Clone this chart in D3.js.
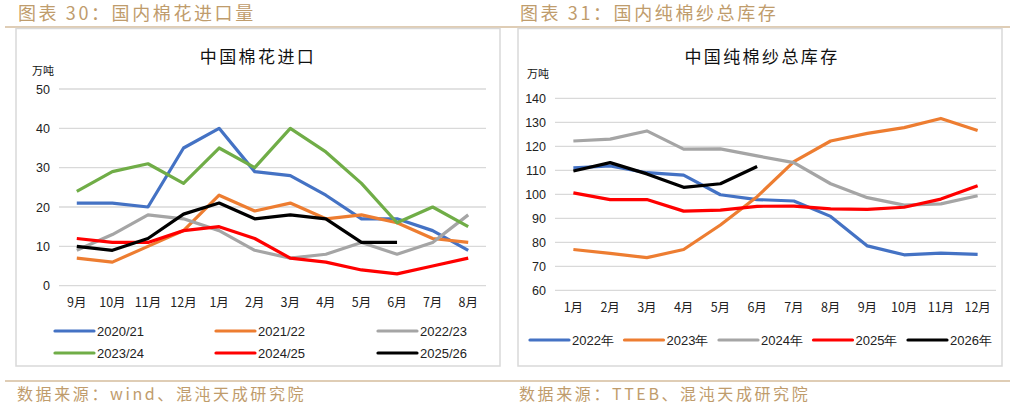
<!DOCTYPE html>
<html>
<head>
<meta charset="utf-8">
<script src="https://cdn.jsdelivr.net/npm/d3@7/dist/d3.min.js"></script>
<style>
  body { margin: 0; background: #fff; }
  svg { display: block; }
</style>
</head>
<body>
<svg id="chart" width="1015" height="408"></svg>
<script>
// ---- left chart: cotton imports (万吨), crop year Sep..Aug
const importMonths = ["9月", "10月", "11月", "12月", "1月", "2月", "3月", "4月", "5月", "6月", "7月", "8月"]
const importSeriesNames = ["2020/21", "2021/22", "2022/23", "2023/24", "2024/25", "2025/26"]
const imports2020 = [21, 21, 20, 35, 40, 29, 28, 23, 17, 17, 14, 9]
const imports2021 = [7, 6, 10, 14, 23, 19, 21, 17, 18, 16, 12, 11]
const imports2022 = [9, 13, 18, 17, 14, 9, 7, 8, 11, 8, 11, 18]
const imports2023 = [24, 29, 31, 26, 35, 30, 40, 34, 26, 16, 20, 15]
const imports2024 = [12, 11, 11, 14, 15, 12, 7, 6, 4, 3, 5, 7]
const imports2025 = [10, 9, 12, 18.2, 21, 17, 18, 17, 11, 11]
const importTicks = [0, 10, 20, 30, 40, 50]

// ---- right chart: yarn inventory (万吨), Jan..Dec
const stockMonths = ["1月", "2月", "3月", "4月", "5月", "6月", "7月", "8月", "9月", "10月", "11月", "12月"]
const stockSeriesNames = ["2022年", "2023年", "2024年", "2025年", "2026年"]
const stock2022 = [111, 111.8, 109, 108, 99.8, 97.8, 97.2, 90.8, 78.5, 74.8, 75.5, 75]
const stock2023 = [77, 75.4, 73.6, 77, 87.2, 99, 113.6, 122.2, 125.4, 127.8, 131.6, 126.6]
const stock2024 = [122.2, 123, 126.4, 118.8, 118.9, 116, 113.2, 104.4, 98.6, 95.5, 96, 99.4]
const stock2025 = [100.6, 97.8, 97.8, 93, 93.4, 95, 95.1, 93.9, 93.7, 94.6, 98, 103.6]
const stock2026 = [109.7, 113.2, 108.5, 102.9, 104.4, 111.6]
const stockTicks = [60, 70, 80, 90, 100, 110, 120, 130, 140]

const colors6 = ["#4472C4", "#ED7D31", "#A5A5A5", "#70AD47", "#FF0000", "#000000"]
const colors5 = ["#4472C4", "#ED7D31", "#A5A5A5", "#FF0000", "#000000"]

const tan = "#bf9c6c"
const cjk = "'Noto Sans CJK SC', sans-serif"
const latin = "'Liberation Sans', Arial, sans-serif"

const svg = d3.select("#chart")

function drawPanel(opt) {
    const g = svg.append("g")

    // header title + rule
    g.append("text")
        .text(opt.heading)
        .attr("x", opt.x0 + 13)
        .attr("y", 20)
        .attr("fill", tan)
        .attr("font-size", 18)
        .attr("letter-spacing", 2.6)
        .attr("font-family", cjk)
    g.append("line")
        .attr("x1", opt.x0).attr("x2", opt.x1)
        .attr("y1", 27).attr("y2", 27)
        .attr("stroke", tan).attr("stroke-width", 1.2)

    // footer rule + source
    g.append("line")
        .attr("x1", opt.x0).attr("x2", opt.x1)
        .attr("y1", 381).attr("y2", 381)
        .attr("stroke", tan).attr("stroke-width", 1.2)
    g.append("text")
        .text(opt.source)
        .attr("x", opt.x0 + 12)
        .attr("y", 400)
        .attr("fill", tan)
        .attr("font-size", 16)
        .attr("letter-spacing", 2.6)
        .attr("font-family", cjk)

    // chart frame
    g.append("rect")
        .attr("x", opt.box[0]).attr("y", 28.5)
        .attr("width", opt.box[1] - opt.box[0])
        .attr("height", 366 - 28.5)
        .attr("fill", "#fff")
        .attr("stroke", "#d9d9d9").attr("stroke-width", 1.5)

    g.append("text")
        .text(opt.title)
        .attr("x", opt.titleX)
        .attr("y", 63)
        .attr("text-anchor", "middle")
        .attr("font-size", 17)
        .attr("letter-spacing", 2.4)
        .attr("font-family", cjk)
        .attr("fill", "#111")

    g.append("text")
        .text("万吨")
        .attr("x", opt.unitX)
        .attr("y", opt.unitY)
        .attr("font-size", 11)
        .attr("font-family", cjk)
        .attr("fill", "#111")

    const xScale = d3.scaleBand()
        .domain(opt.months)
        .range([opt.plot.left, opt.plot.right])

    const yScale = d3.scaleLinear()
        .domain(d3.extent(opt.ticks))
        .range([opt.plot.bottom, opt.plot.top])

    // gridlines
    g.append("g")
        .selectAll("line")
        .data(opt.ticks)
        .join("line")
            .attr("x1", opt.plot.left)
            .attr("x2", opt.plot.right)
            .attr("y1", d => yScale(d))
            .attr("y2", d => yScale(d))
            .attr("stroke", "#d9d9d9")
            .attr("stroke-width", 1.3)

    // y axis labels
    const yAxis = g.append("g")
        .attr("transform", `translate(${opt.plot.left - 9}, 0)`)
        .call(d3.axisLeft(yScale).tickValues(opt.ticks).tickSize(0).tickPadding(0))
    yAxis.select(".domain").remove()
    yAxis.selectAll("text")
        .attr("font-size", 12.5)
        .attr("font-family", latin)
        .attr("fill", "#222")

    // x axis labels
    const xAxis = g.append("g")
        .attr("transform", `translate(0, ${opt.xLabelY})`)
        .call(d3.axisBottom(xScale).tickSize(0).tickPadding(0))
    xAxis.select(".domain").remove()
    xAxis.selectAll("text")
        .attr("dy", "0.35em")
        .attr("font-size", 12.5)
        .attr("font-family", cjk)
        .attr("fill", "#222")

    const line = d3.line()
        .x((d, i) => xScale(opt.months[i]) + xScale.bandwidth() / 2)
        .y(d => yScale(d))

    // series lines
    g.append("g")
        .selectAll("path")
        .data(opt.series)
        .join("path")
            .attr("d", d => line(d))
            .attr("fill", "none")
            .attr("stroke", (d, i) => opt.colors[i])
            .attr("stroke-width", 3.2)
            .attr("stroke-linejoin", "round")

    // legend
    const leg = g.append("g")
        .selectAll("g")
        .data(opt.names)
        .join("g")
            .attr("transform", (d, i) => `translate(${opt.legendPos(i)[0]}, ${opt.legendPos(i)[1]})`)
    leg.append("line")
        .attr("x1", 0).attr("x2", 39)
        .attr("stroke", (d, i) => opt.colors[i])
        .attr("stroke-width", 3.2)
        .attr("stroke-linecap", "round")
    leg.append("text")
        .text(d => d)
        .attr("x", 42)
        .attr("dy", "0.35em")
        .attr("font-size", 13)
        .attr("font-family", opt.legendFont)
        .attr("fill", "#222")
}

drawPanel({
    x0: 5, x1: 507,
    heading: "图表 30：国内棉花进口量",
    source: "数据来源：wind、混沌天成研究院",
    box: [16, 500],
    title: "中国棉花进口",
    titleX: 258,
    unitX: 32, unitY: 75,
    months: importMonths,
    ticks: importTicks,
    plot: {left: 59, right: 486, top: 89, bottom: 285.7},
    xLabelY: 303,
    series: [imports2020, imports2021, imports2022, imports2023, imports2024, imports2025],
    names: importSeriesNames,
    colors: colors6,
    legendFont: latin,
    legendPos: i => [[55, 216, 378][i % 3], i < 3 ? 331 : 353]
})

drawPanel({
    x0: 507, x1: 1010,
    heading: "图表 31：国内纯棉纱总库存",
    source: "数据来源：TTEB、混沌天成研究院",
    box: [518, 1002],
    title: "中国纯棉纱总库存",
    titleX: 762,
    unitX: 527, unitY: 78,
    months: stockMonths,
    ticks: stockTicks,
    plot: {left: 555, right: 996, top: 98.3, bottom: 290.3},
    xLabelY: 308,
    series: [stock2022, stock2023, stock2024, stock2025, stock2026],
    names: stockSeriesNames,
    colors: colors5,
    legendFont: latin,
    legendPos: i => [530 + i * 94.5, 340]
})
</script>
</body>
</html>
